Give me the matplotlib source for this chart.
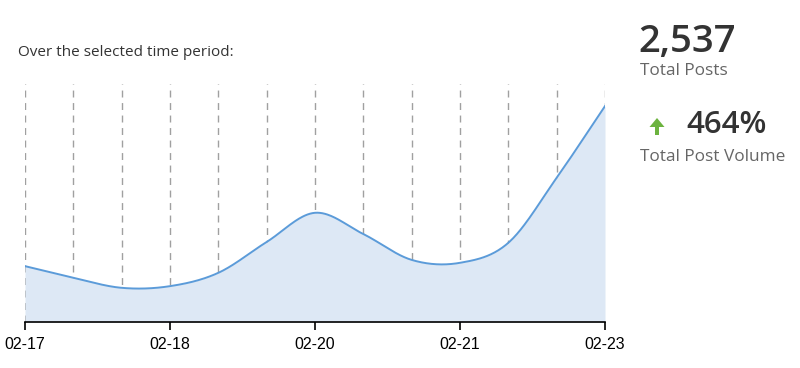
import matplotlib
matplotlib.use("Agg")
import matplotlib.pyplot as plt
from matplotlib.patches import FancyArrow
import numpy as np

# posts per period
posts = [134, 106, 82, 86, 118, 192, 262, 211, 149, 142, 190, 346, 518]
tick_pos = [0, 3, 6, 9, 12]
tick_labels = ["02-17", "02-18", "02-20", "02-21", "02-23"]
total_posts = "2,537"
volume_change = "464%"

LINE = "#5b9bd9"
FILL = "#dde8f5"


def smooth_curve(x, y, n=40):
    # catmull-rom through the points
    x = np.asarray(x, float)
    y = np.asarray(y, float)
    px = np.concatenate([[2 * x[0] - x[1]], x, [2 * x[-1] - x[-2]]])
    py = np.concatenate([[2 * y[0] - y[1]], y, [2 * y[-1] - y[-2]]])
    xs, ys = [], []
    t = np.linspace(0, 1, n)
    for i in range(1, len(px) - 2):
        for p, out in ((px, xs), (py, ys)):
            p0, p1, p2, p3 = p[i - 1], p[i], p[i + 1], p[i + 2]
            out.append(0.5 * (2 * p1 + (-p0 + p2) * t + (2 * p0 - 5 * p1 + 4 * p2 - p3) * t**2
                              + (-p0 + 3 * p1 - 3 * p2 + p3) * t**3))
    return np.concatenate(xs), np.concatenate(ys)


plt.rcParams["font.family"] = ["Open Sans", "DejaVu Sans"]

fig = plt.figure(figsize=(8, 3.68), dpi=100)
ax = fig.add_axes([25 / 800, 1 - 322 / 368, 580 / 800, 238 / 368])

idx = np.arange(len(posts))
cx, cy = smooth_curve(idx, posts)
ax.fill_between(cx, 0, cy, color=FILL, lw=0)
ax.plot(cx, cy, color=LINE, lw=1.4)

for i in idx:
    ax.axvline(i, color="#a0a0a0", lw=1, ls=(0, (5, 4)), zorder=0.5)

ax.set_xlim(0, len(posts) - 1)
ax.set_ylim(0, 571)
for sp in ["top", "right", "left"]:
    ax.spines[sp].set_visible(False)
ax.spines["bottom"].set_linewidth(1.2)
ax.set_yticks([])
ax.set_xticks(tick_pos)
ax.set_xticklabels(tick_labels, family=["Liberation Sans", "DejaVu Sans"], fontsize=11.5)
ax.tick_params(axis="x", length=6, width=1.2, pad=5)
ax.margins(0)
for lab in ax.get_xticklabels():
    lab.set_clip_on(False)

fig.text(18 / 800, 1 - 52 / 368, "Over the selected time period:", fontsize=11,
         color="#333333", va="center", ha="left")

fig.text(638 / 800, 1 - 42 / 368, total_posts, fontsize=27.5, fontweight="semibold",
         color="#333333", va="center", ha="left")
fig.text(640 / 800, 1 - 71 / 368, "Total Posts", fontsize=12.4,
         color="#666666", va="center", ha="left")
fig.text(686 / 800, 1 - 125 / 368, volume_change, fontsize=22.5, fontweight="semibold",
         color="#333333", va="center", ha="left")
fig.text(640 / 800, 1 - 157 / 368, "Total Post Volume", fontsize=12.4,
         color="#666666", va="center", ha="left")

arr = FancyArrow(657 / 800, 1 - 135 / 368, 0, 17 / 368, width=4 / 800,
                 head_width=15 / 800, head_length=9 / 368, length_includes_head=True,
                 color="#6cb33f", transform=fig.transFigure, lw=0)
fig.patches.append(arr)

fig.savefig("out.png", dpi=100)
